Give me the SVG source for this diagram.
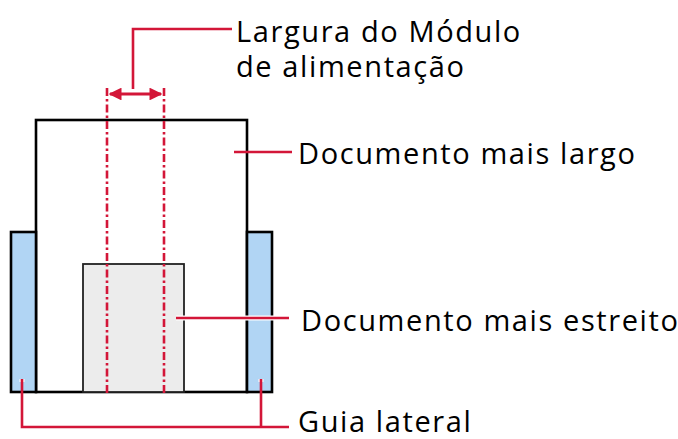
<svg xmlns="http://www.w3.org/2000/svg" width="678" height="439" viewBox="0 0 678 439">
<defs>
<style>
.lbl{font-family:"Open Sans","Noto Sans",sans-serif;font-size:29px;letter-spacing:1.6px;fill:#000}
.red{stroke:#d31638;stroke-width:2.6;fill:none}
.dash{stroke:#d31638;stroke-width:2.6;fill:none;stroke-dasharray:8 3 2.5 3}
.halo{stroke:#fff;stroke-width:5;fill:none}
</style>
<marker id="ah" viewBox="0 0 10 10" refX="9" refY="5" markerWidth="4" markerHeight="4" orient="auto-start-reverse" markerUnits="strokeWidth">
<path d="M0,0 L10,5 L0,10 z" fill="#d31638"/>
</marker>
</defs>
<rect width="678" height="439" fill="#fff"/>
<g id="wide-doc"><rect x="36" y="120" width="211" height="272" fill="#fff" stroke="#000" stroke-width="2.6"/></g>
<g id="guide-left"><rect x="11" y="232" width="25" height="160" fill="#b1d5f4" stroke="#000" stroke-width="2.6"/></g>
<g id="guide-right"><rect x="247" y="232" width="25" height="160" fill="#b1d5f4" stroke="#000" stroke-width="2.6"/></g>
<g id="narrow-doc"><rect x="83" y="264" width="101" height="128" fill="#ececec" stroke="#222" stroke-width="1.8"/></g>
<g id="connectors">
<line class="dash" x1="107" y1="88" x2="107" y2="393"/>
<line class="dash" x1="164" y1="88" x2="164" y2="393"/>
<line x1="110" y1="94" x2="161" y2="94" stroke="#d31638" stroke-width="3.2" marker-start="url(#ah)" marker-end="url(#ah)"/>
<polyline class="red" points="133,89 133,29 232,29"/>
<line class="red" x1="234" y1="152" x2="292" y2="152"/>
<line class="halo" x1="176" y1="318" x2="288" y2="318"/>
<line class="red" x1="176" y1="318" x2="289" y2="318"/>
<path class="halo" d="M22,379 V382 M261,379 V382"/>
<polyline class="red" points="22,379 22,427 289,427"/>
<line class="red" x1="261" y1="379" x2="261" y2="427"/>
</g>
<g id="label-largura"><text class="lbl" x="236" y="42">Largura do Módulo</text><text class="lbl" x="236" y="77">de alimentação</text></g>
<g id="label-largo"><text class="lbl" x="298" y="164">Documento mais largo</text></g>
<g id="label-estreito"><text class="lbl" x="301" y="331">Documento mais estreito</text></g>
<g id="label-guia"><text class="lbl" x="298" y="432">Guia lateral</text></g>
</svg>
